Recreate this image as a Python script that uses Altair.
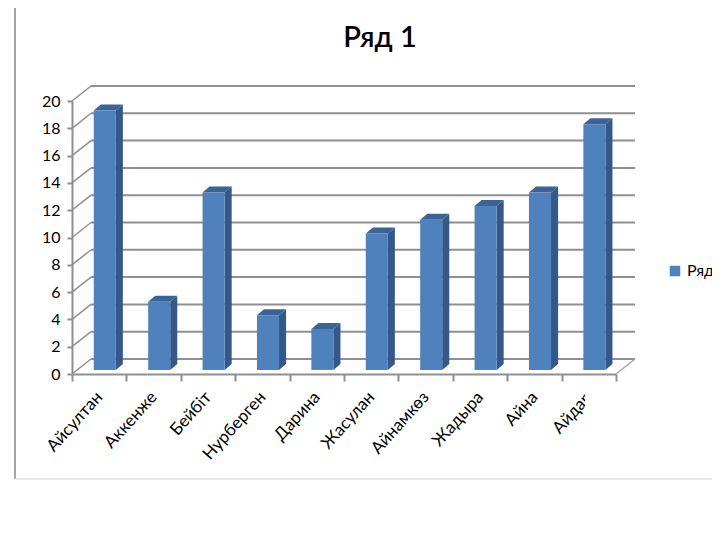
import altair as alt
import pandas as pd

categories = ["Айсултан", "Аккенже", "Бейбіт", "Нурберген", "Дарина",
              "Жасулан", "Айнамкөз", "Жадыра", "Айна", "Айдар"]
values = [19, 5, 13, 4, 3, 10, 11, 12, 13, 18]
ticks = list(range(0, 21, 2))
series = "Ряд 1"

GRAY = "#8f8f8f"
FONT = "Lato"
DX, DY = 0.35, 1.1          # depth of the walls, in data units
BX, BY = 0.13, 0.44         # depth of a bar, in data units
BASE = 0.3
LEFT, RIGHT = 0.4, 0.805

front = pd.DataFrame({
    "cat": categories, "series": series,
    "x": [i + LEFT for i in range(10)],
    "x2": [i + RIGHT for i in range(10)],
    "y": [BASE] * 10,
    "y2": [v + BASE for v in values],
})
side_rows, top_rows = [], []
for i, (c, v) in enumerate(zip(categories, values)):
    for t in (0, 1):
        side_rows.append({"cat": c, "x": i + RIGHT + t * BX,
                          "y": BASE + t * BY, "y2": v + BASE + t * BY})
        top_rows.append({"cat": c, "y": v + BASE + t * BY,
                         "x": i + LEFT + t * BX, "x2": i + RIGHT + t * BX})
side = pd.DataFrame(side_rows)
top = pd.DataFrame(top_rows)
grid = pd.DataFrame({"v": ticks, "x": 0.0, "xb": DX, "xe": 10 + DX})
grid["vb"] = grid["v"] + DY
floor_edge = pd.DataFrame({"x": [10.0], "x2": [10 + DX], "y": [0.0], "y2": [DY]})

X = alt.Scale(domain=[0, 10], range=[0, 544], nice=False, zero=False)
Y = alt.Scale(domain=[0, 20], range=[273, 0], nice=False)
qx = alt.X("x:Q", scale=X, axis=None)
qy = alt.Y("y:Q", scale=Y, axis=None)

base_axes = alt.Chart(pd.DataFrame({"cat": categories, "v": values})).mark_bar(opacity=0).encode(
    x=alt.X("cat:N", sort=categories, title=None,
            scale=alt.Scale(paddingInner=0, paddingOuter=0),
            axis=alt.Axis(labelAngle=-48, labelAlign="right", labelBaseline="middle",
                          labelFontSize=17, labelFont=FONT, labelColor="#000000",
                          labelPadding=13, labelLimit=200, labelOverlap=False,
                          tickBand="extent", tickSize=7, tickWidth=2, tickColor=GRAY,
                          domainWidth=2, domainColor=GRAY, grid=False)),
    y=alt.Y("v:Q", scale=Y, title=None,
            axis=alt.Axis(values=ticks, labelFontSize=16, labelFont=FONT, labelColor="#000000",
                          labelPadding=7, tickSize=5, tickWidth=2, tickColor=GRAY,
                          domainWidth=2, domainColor=GRAY, grid=False)),
)

back_lines = alt.Chart(grid).mark_rule(color=GRAY, strokeWidth=2).encode(
    x=alt.X("xb:Q", scale=X, axis=None), x2="xe:Q",
    y=alt.Y("vb:Q", scale=Y, axis=None),
)
diagonals = alt.Chart(grid).mark_rule(color=GRAY, strokeWidth=1.5).encode(
    x=alt.X("x:Q", scale=X, axis=None), x2="xb:Q",
    y=alt.Y("v:Q", scale=Y, axis=None), y2="vb:Q",
)
edge = alt.Chart(floor_edge).mark_rule(color="#a6a6a6", strokeWidth=1.5).encode(
    x=qx, x2="x2:Q", y=qy, y2="y2:Q")

side_faces = alt.Chart(side).mark_area(color="#33588a", opacity=1).encode(
    x=qx, y=alt.Y("y:Q", scale=Y, axis=None, stack=None), y2="y2:Q", detail="cat:N")
top_faces = alt.Chart(top).mark_area(color="#3a6496", opacity=1, orient="horizontal").encode(
    y=alt.Y("y:Q", scale=Y, axis=None, stack=None),
    x=alt.X("x:Q", scale=X, axis=None, stack=None), x2="x2:Q", detail="cat:N")
front_faces = alt.Chart(front).mark_rect().encode(
    x=qx, x2="x2:Q", y=qy, y2="y2:Q",
    color=alt.Color("series:N", scale=alt.Scale(domain=[series], range=["#4f81bd"]), title=None,
                    legend=alt.Legend(orient="none", legendX=595, legendY=162, symbolType="square",
                                      symbolSize=110, labelFontSize=16, labelFont=FONT,
                                      labelColor="#000000", labelOffset=4, padding=0,
                                      symbolStrokeWidth=0, labelLimit=200)),
)

frame_left = alt.Chart(pd.DataFrame({"a": [0]})).mark_rule(color="#a3a3a3", strokeWidth=2).encode(
    x=alt.value(-57), y=alt.value(-93), y2=alt.value(378))
frame_bottom = alt.Chart(pd.DataFrame({"a": [0]})).mark_rule(color="#e2e2e2", strokeWidth=1.5).encode(
    x=alt.value(-57), x2=alt.value(650), y=alt.value(378))
mask = alt.Chart(pd.DataFrame({"a": [0]})).mark_rule(color="#ffffff", strokeWidth=14).encode(
    x=alt.value(520), y=alt.value(284), y2=alt.value(325))

chart = alt.layer(
    base_axes, back_lines, diagonals, edge, side_faces, top_faces, front_faces,
    frame_left, frame_bottom, mask,
).resolve_scale(x="independent", y="independent").properties(
    width=544, height=273,
    title=alt.TitleParams(series, font=FONT, fontSize=29, fontWeight=600, color="#000000",
                          anchor="middle", dx=36, offset=-46),
    padding={"left": 64, "top": 93, "right": 96, "bottom": 150},
    autosize=alt.AutoSizeParams(type="none"),
    background="#ffffff",
).configure_view(stroke=None)

chart.save("out.html", embed_options={"renderer": "svg", "actions": False})
